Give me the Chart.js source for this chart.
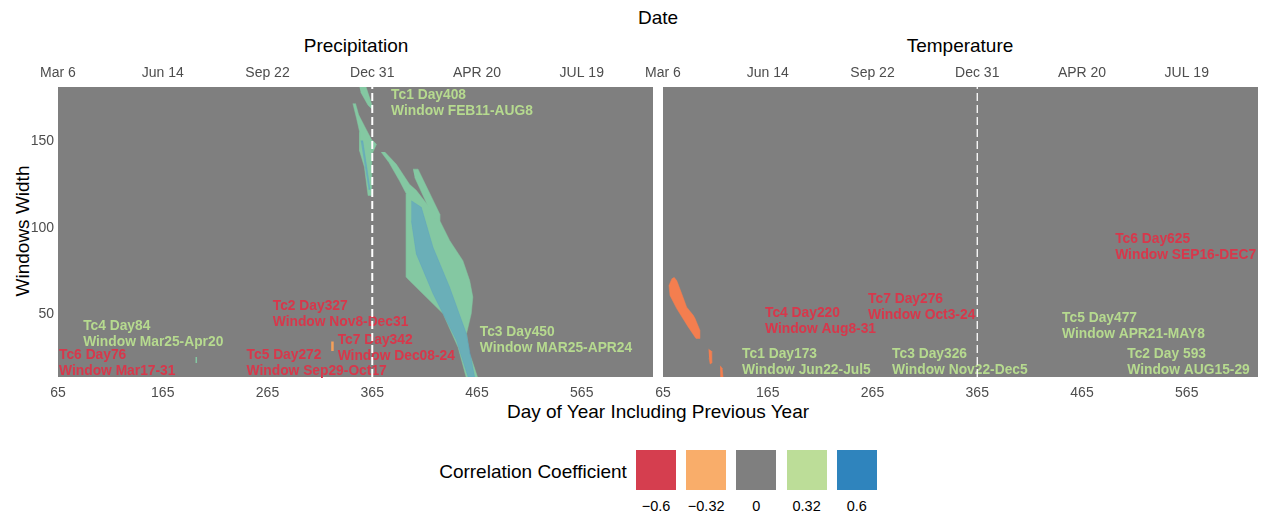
<!DOCTYPE html>
<html>
<head>
<meta charset="utf-8">
<script src="https://cdn.jsdelivr.net/npm/chart.js@4.4.1/dist/chart.umd.min.js"></script>
<style>
  body { margin: 0; background: #fff; font-family: "Liberation Sans", Arial, sans-serif; }
  #wrap { position: relative; width: 1262px; height: 514px; overflow: hidden; }
  .lbl { position: absolute; transform: translate(-50%, -50%); white-space: nowrap; line-height: 1; color: #000; }
  canvas { position: absolute; }
  .key { position: absolute; width: 40px; height: 40px; top: 450px; }
  .keylbl { position: absolute; top: 506px; font-size: 14.5px; transform: translate(-50%, -50%); line-height: 1; }
</style>
</head>
<body>
<div id="wrap">
  <div class="lbl" style="left:658px;top:17px;font-size:19px;">Date</div>
  <div class="lbl" style="left:356px;top:45px;font-size:19px;">Precipitation</div>
  <div class="lbl" style="left:960px;top:45px;font-size:19px;">Temperature</div>
  <div class="lbl" style="left:658px;top:411px;font-size:19px;">Day of Year Including Previous Year</div>
  <div class="lbl" style="left:22px;top:231px;font-size:19px;transform:translate(-50%,-50%) rotate(-90deg);">Windows Width</div>
  <canvas id="precip" width="656" height="350" style="left:0;top:56px;"></canvas>
  <canvas id="temp" width="632" height="350" style="left:630px;top:56px;"></canvas>
  <div id="legend"></div>
</div>
<script>
// --- axes ---
const X_MIN = 65, X_MAX = 633;
const Y_MIN = 14, Y_MAX = 181;
const X_TICKS = [65, 165, 265, 365, 465, 565];
const DATE_LABELS = ['Mar 6', 'Jun 14', 'Sep 22', 'Dec 31', 'APR 20', 'JUL 19'];
const Y_TICKS = [50, 100, 150];
const YEAR_START = 365;

// --- legend ---
const LEGEND_VALUES = ['\u22120.6', '\u22120.32', '0', '0.32', '0.6'];
const LEGEND_COLORS = ['#d53e4f', '#f9ad6a', '#7f7f7f', '#bcdd98', '#2f84bd'];

// --- precipitation regions [day, window width] ---
const PRECIP_TC1_TOP = [[352,183],[358,183],[364.5,171],[364.5,168.5],[361,170.5],[354,178]];
const PRECIP_TC1_MID = [[346.5,171.5],[350,163],[353,155],[353,144],[357.5,135],[361,118.5],
  [364.5,118.5],[364.5,136],[364.5,142],[369,148],[364,151],[358,158],[352,165],[349,171.5]];
const PRECIP_TC3_BODY = [[373.5,143.5],[381,137.5],[391,127],[397.5,119.5],[397.5,71.5],[400.5,69.5],
  [432.5,50.5],[447,31],[455,13],[466,13],[458,27.5],[455,39],[459.5,50.5],[461,60],[458,69.5],
  [451.5,81],[439,92.5],[429.5,104],[407,121.5],[400.5,125],[388,136.5],[377,143.5]];
const PRECIP_TC3_CORE = [[402.3,115.5],[411.9,111.7],[423,88.7],[438.9,65.7],[454.9,38.9],[462.8,14],
  [456.4,14],[445.3,35],[423,61.9],[407,84.9],[402.3,104]];
const PRECIP_TC1_CORE = [[354,150],[356,150],[363,122],[361.5,122]];
const PRECIP_TC3_BAND = [[403.9,133.7],[408.7,133.7],[429.4,107.9],[429.4,104],[423,106],[405.5,129]];
const PRECIP_TC4_DOT = [[197,25.5],[197,22]];
const PRECIP_TC7_DOT = [[327,34.5],[327,29]];

// --- temperature regions [day, window width] ---
const TEMP_NEG_MAIN = [[73.6,70.7],[70.7,66.7],[71.7,60.9],[78.1,53.4],[88.9,43],[96.5,36.2],[100.3,36.2],
  [100.3,40.8],[95.6,47.7],[93.9,49.5],[87.6,54.2],[82.9,61.9],[78.1,69.5],[75.5,71.5]];
const TEMP_NEG_SMALL1 = [[108.5,30],[111,29],[111.5,22],[110,21.5],[109,25]];
const TEMP_NEG_SMALL2 = [[119.5,20.5],[121.5,19],[122.5,13],[119.8,13]];

// --- annotations: [day, width, sign, line1, line2] ---
const PRECIP_NOTES = [
  [383, 176, 1, 'Tc1 Day408', 'Window FEB11-AUG8'],
  [89, 43.4, 1, 'Tc4 Day84', 'Window Mar25-Apr20'],
  [66, 26.4, -1, 'Tc6 Day76', 'Window Mar17-31'],
  [270, 54.9, -1, 'Tc2 Day327', 'Window Nov8-Dec31'],
  [332, 35.1, -1, 'Tc7 Day342', 'Window Dec08-24'],
  [245, 26.4, -1, 'Tc5 Day272', 'Window Sep29-Oct17'],
  [467.6, 39.7, 1, 'Tc3 Day450', 'Window MAR25-APR24']
];
const TEMP_NOTES = [
  [496.7, 93.1, -1, 'Tc6 Day625', 'Window SEP16-DEC7'],
  [162.4, 50.6, -1, 'Tc4 Day220', 'Window Aug8-31'],
  [260.8, 58.6, -1, 'Tc7 Day276', 'Window Oct3-24'],
  [446, 47.7, 1, 'Tc5 Day477', 'Window APR21-MAY8'],
  [140.5, 27, 1, 'Tc1 Day173', 'Window Jun22-Jul5'],
  [283.7, 27, 1, 'Tc3 Day326', 'Window Nov22-Dec5'],
  [508.2, 27, 1, 'Tc2 Day 593', 'Window AUG15-29']
];

const PANEL_GRAY = '#7f7f7f';
const POS_FILL = '#84c8a2';
const CORE_FILL = 'rgba(80,150,205,0.5)';
const NEG_FILL = '#f47e4f';
const TEXT_RED = '#d8374b';
const TEXT_GREEN = '#b6da8f';
const FONT = '"Liberation Sans", Arial, sans-serif';

function polygon(points, color) {
    return {
        data: points.map(p => ({ x: p[0], y: p[1] })),
        showLine: true,
        fill: 'shape',
        backgroundColor: color,
        borderColor: color,
        borderWidth: 0.5,
        pointRadius: 0,
        tension: 0
    };
}

function segment(points, color, width) {
    return {
        data: points.map(p => ({ x: p[0], y: p[1] })),
        showLine: true,
        fill: false,
        borderColor: color,
        borderWidth: width,
        pointRadius: 0
    };
}

function dashedYearLine(width) {
    return {
        data: [{ x: YEAR_START, y: Y_MIN }, { x: YEAR_START, y: Y_MAX }],
        showLine: true,
        fill: false,
        borderColor: '#ffffff',
        borderWidth: width,
        borderDash: [8, 4],
        pointRadius: 0
    };
}

// gray panel behind everything
const panelBg = {
    id: 'panelBg',
    beforeDraw(chart) {
        const { ctx, chartArea: a } = chart;
        ctx.save();
        ctx.fillStyle = PANEL_GRAY;
        ctx.fillRect(a.left, a.top, a.right - a.left, a.bottom - a.top);
        ctx.restore();
    }
};

// Tc labels, placed on the data scales
const notesPlugin = {
    id: 'notes',
    beforeDatasetsDraw(chart, args, opts) {
        const { ctx } = chart;
        const xs = chart.scales.x, ys = chart.scales.y;
        ctx.save();
        ctx.font = '700 13.8px ' + FONT;
        ctx.textAlign = 'left';
        ctx.textBaseline = 'middle';
        (opts.items || []).forEach(n => {
            const px = xs.getPixelForValue(n[0]);
            const py = ys.getPixelForValue(n[1]);
            ctx.fillStyle = n[2] < 0 ? TEXT_RED : TEXT_GREEN;
            ctx.fillText(n[3], px, py);
            ctx.fillText(n[4], px, py + 16);
        });
        ctx.restore();
    }
};

function fixedTicks(values) {
    return scale => { scale.ticks = values.map(v => ({ value: v })); };
}

// fixed axis band, and no extra room for labels hanging past the ends
function fixHeight(h) {
    return s => { s.height = h; s.paddingLeft = 0; s.paddingRight = 0; };
}

function makeChart(id, datasets, notes, showY, padLeft, padRight) {
    const tickFont = { family: FONT, size: 14 };
    // chart.js paints dataset 0 last, so give later datasets a lower order to keep list order
    datasets.forEach((d, i) => { d.order = datasets.length - i; });
    return new Chart(document.getElementById(id), {
        type: 'scatter',
        data: { datasets: datasets },
        plugins: [panelBg, notesPlugin],
        options: {
            responsive: false,
            animation: false,
            events: [],
            layout: { padding: { left: padLeft, right: padRight, top: 0, bottom: 0 } },
            plugins: {
                legend: { display: false },
                tooltip: { enabled: false },
                notes: { items: notes }
            },
            scales: {
                x: {
                    type: 'linear', position: 'bottom', min: X_MIN, max: X_MAX,
                    afterBuildTicks: fixedTicks(X_TICKS),
                    afterFit: fixHeight(29),
                    grid: { display: false, drawTicks: false },
                    border: { display: false },
                    ticks: { color: '#4d4d4d', font: tickFont, padding: 8, maxRotation: 0, autoSkip: false }
                },
                xTop: {
                    type: 'linear', position: 'top', min: X_MIN, max: X_MAX,
                    afterBuildTicks: fixedTicks(X_TICKS),
                    afterFit: fixHeight(31),
                    grid: { display: false, drawTicks: false },
                    border: { display: false },
                    ticks: {
                        color: '#4d4d4d', font: tickFont, padding: 5, maxRotation: 0, autoSkip: false,
                        callback: (v, i) => DATE_LABELS[i]
                    }
                },
                y: {
                    type: 'linear', min: Y_MIN, max: Y_MAX, display: showY,
                    afterBuildTicks: fixedTicks(Y_TICKS),
                    afterFit: s => { s.width = showY ? 58 : 0; },
                    grid: { display: false, drawTicks: false },
                    border: { display: false },
                    ticks: { color: '#4d4d4d', font: tickFont, padding: 4 }
                }
            }
        }
    });
}

// --- Precipitation panel ---
makeChart('precip', [
    polygon(PRECIP_TC1_TOP, POS_FILL),
    polygon(PRECIP_TC1_MID, POS_FILL),
    polygon(PRECIP_TC1_CORE, CORE_FILL),
    polygon(PRECIP_TC3_BODY, POS_FILL),
    polygon(PRECIP_TC3_BAND, POS_FILL),
    polygon(PRECIP_TC3_CORE, CORE_FILL),
    segment(PRECIP_TC4_DOT, POS_FILL, 1.5),
    segment(PRECIP_TC7_DOT, '#f4a05a', 2.5),
    dashedYearLine(2)
], PRECIP_NOTES, true, 0, 3);

// --- Temperature panel ---
makeChart('temp', [
    polygon(TEMP_NEG_MAIN, NEG_FILL),
    polygon(TEMP_NEG_SMALL1, NEG_FILL),
    polygon(TEMP_NEG_SMALL2, NEG_FILL),
    dashedYearLine(1.3)
], TEMP_NOTES, false, 33, 4);

// --- colour key ---
const legend = document.getElementById('legend');
const title = document.createElement('div');
title.className = 'lbl';
title.style.cssText = 'left:533px;top:471px;font-size:19px;';
title.textContent = 'Correlation Coefficient';
legend.appendChild(title);
LEGEND_VALUES.forEach((v, i) => {
    const left = 636 + i * 50.2;
    const box = document.createElement('div');
    box.className = 'key';
    box.style.left = left + 'px';
    box.style.background = LEGEND_COLORS[i];
    legend.appendChild(box);
    const lbl = document.createElement('div');
    lbl.className = 'keylbl';
    lbl.style.left = (left + 20) + 'px';
    lbl.textContent = v;
    legend.appendChild(lbl);
});
</script>
</body>
</html>
